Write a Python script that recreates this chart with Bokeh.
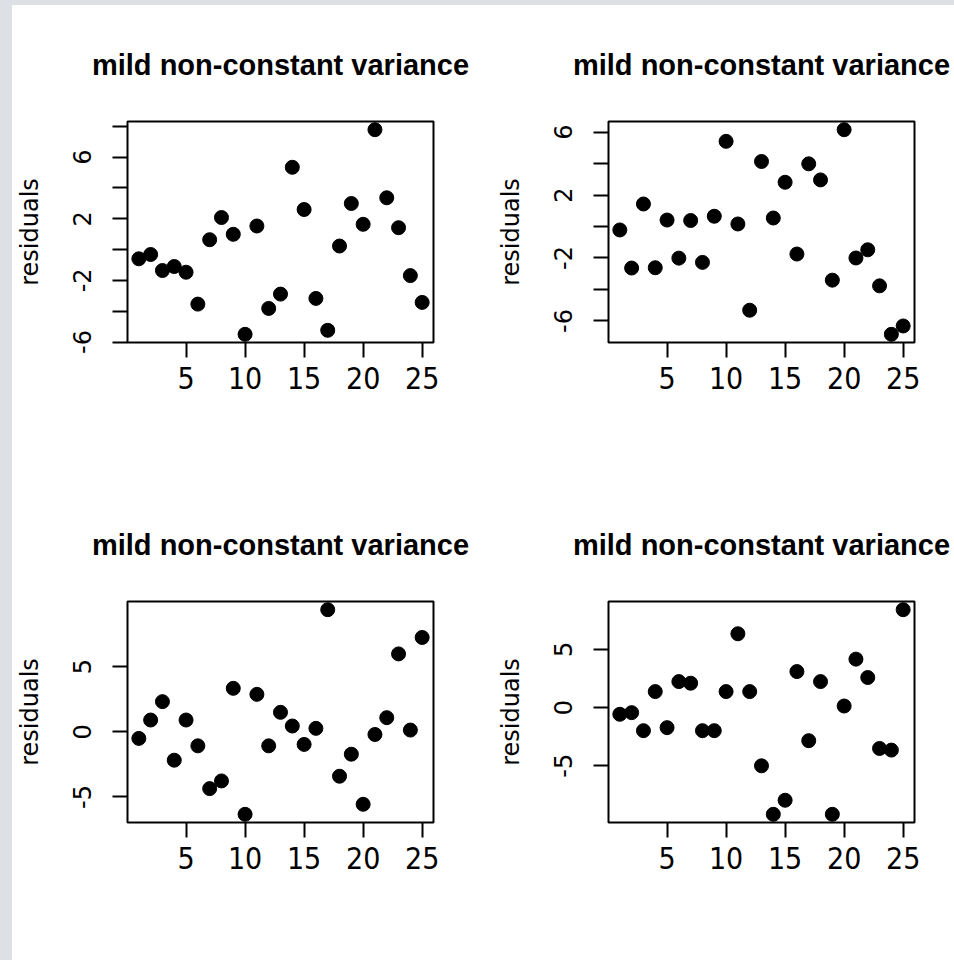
from bokeh.plotting import figure
from bokeh.layouts import row, column
from bokeh.models import FixedTicker, Spacer, ColumnDataSource, Range1d
from bokeh.embed import file_html
from bokeh.resources import INLINE

# ---------------- data ----------------
index = [1, 2, 3, 4, 5, 6, 7, 8, 9, 10, 11, 12, 13, 14, 15, 16, 17, 18, 19, 20, 21, 22, 23, 24, 25]
res_a = [-0.60, -0.32, -1.36, -1.10, -1.47, -3.54, 0.64, 2.08, 0.99, -5.50, 1.53, -3.82, -2.89,
         5.34, 2.60, -3.17, -5.24, 0.23, 2.99, 1.64, 7.78, 3.36, 1.42, -1.69, -3.43]
res_b = [-0.22, -2.64, 1.43, -2.62, 0.41, -2.01, 0.38, -2.28, 0.65, 5.41, 0.16, -5.32, 4.13,
         0.54, 2.81, -1.75, 3.98, 2.96, -3.41, 6.15, -2.00, -1.48, -3.77, -6.85, -6.32]
res_c = [-0.51, 0.90, 2.31, -2.18, 0.90, -1.08, -4.36, -3.77, 3.33, -6.33, 2.87, -1.08, 1.49,
         0.44, -0.97, 0.26, 9.36, -3.41, -1.72, -5.56, -0.21, 1.08, 5.97, 0.13, 7.23]
res_d = [-0.57, -0.43, -1.98, 1.38, -1.72, 2.24, 2.10, -1.98, -1.98, 1.38, 6.35, 1.38, -5.00,
         -9.17, -7.96, 3.10, -2.84, 2.24, -9.17, 0.14, 4.17, 2.59, -3.51, -3.65, 8.42]

title_text = "mild non-constant variance"
y_label = "residuals"
x_ticks = [5, 10, 15, 20, 25]
y_ticks_a = [-6, -4, -2, 0, 2, 4, 6, 8]
y_shown_a = [-6, -2, 2, 6]
y_ticks_b = [-6, -4, -2, 0, 2, 4, 6]
y_shown_b = [-6, -2, 2, 6]
y_ticks_c = [-5, 0, 5]
y_shown_c = [-5, 0, 5]
y_ticks_d = [-5, 0, 5]
y_shown_d = [-5, 0, 5]

GRAY = "#dde1e6"
NARROW = "'Liberation Sans Narrow', 'DejaVu Sans Condensed', 'Liberation Sans', sans-serif"


def rlim(v):
    lo, hi = min(v), max(v)
    r = hi - lo
    return lo - 0.04 * r, hi + 0.04 * r


def panel(vals, yt, yshown, width, height, right, bottom):
    x0, x1 = rlim(index)
    y0, y1 = rlim(vals)
    p = figure(width=width, height=height, output_backend="svg", toolbar_location=None,
               x_range=Range1d(x0, x1), y_range=Range1d(y0, y1),
               min_border_left=115, min_border_right=right,
               min_border_top=115, min_border_bottom=bottom,
               title=title_text)
    p.background_fill_color = "white"
    p.border_fill_color = "white"
    p.outline_line_color = "black"
    p.outline_line_width = 2
    p.xgrid.visible = False
    p.ygrid.visible = False

    p.title.text_font = "Liberation Sans"
    p.title.text_font_style = "bold"
    p.title.text_font_size = "29px"
    p.title.align = "center"
    p.title.text_color = "black"
    p.title.standoff = 82

    for ax in (p.xaxis[0], p.yaxis[0]):
        ax.axis_line_color = None
        ax.major_tick_out = 15
        ax.major_tick_in = 0
        ax.major_tick_line_width = 2
        ax.major_tick_line_color = "black"
        ax.minor_tick_line_color = None
        ax.major_label_text_color = "black"

    xa = p.xaxis[0]
    xa.ticker = FixedTicker(ticks=x_ticks)
    xa.major_label_text_font = NARROW
    xa.major_label_text_font_size = "30px"
    xa.major_label_standoff = 9

    ya = p.yaxis[0]
    ya.ticker = FixedTicker(ticks=yt)
    ya.major_label_overrides = {t: ("" if t not in yshown else str(t)) for t in yt}
    ya.major_label_orientation = "vertical"
    ya.major_label_text_font = "DejaVu Sans"
    ya.major_label_text_font_size = "24px"
    ya.major_label_standoff = 21
    ya.axis_label = y_label
    ya.axis_label_text_font = "DejaVu Sans"
    ya.axis_label_text_font_style = "normal"
    ya.axis_label_text_font_size = "24px"
    ya.axis_label_text_color = "black"
    ya.axis_label_standoff = 27

    src = ColumnDataSource(dict(x=index, y=vals))
    p.scatter("x", "y", source=src, size=14, color="black", line_color="black")
    return p


p1 = panel(res_a, y_ticks_a, y_shown_a, 481, 480, 60, 143)
p2 = panel(res_b, y_ticks_b, y_shown_b, 461, 480, 40, 143)
p3 = panel(res_c, y_ticks_c, y_shown_c, 481, 475, 60, 138)
p4 = panel(res_d, y_ticks_d, y_shown_d, 461, 475, 40, 138)

grid = column(row(p1, p2), row(p3, p4))
top_bar = Spacer(width=942, height=5, styles={"background-color": GRAY})
left_bar = Spacer(width=12, height=960, styles={"background-color": GRAY})
layout = row(left_bar, column(top_bar, grid))

open("out.html", "w").write(file_html(layout, INLINE))
